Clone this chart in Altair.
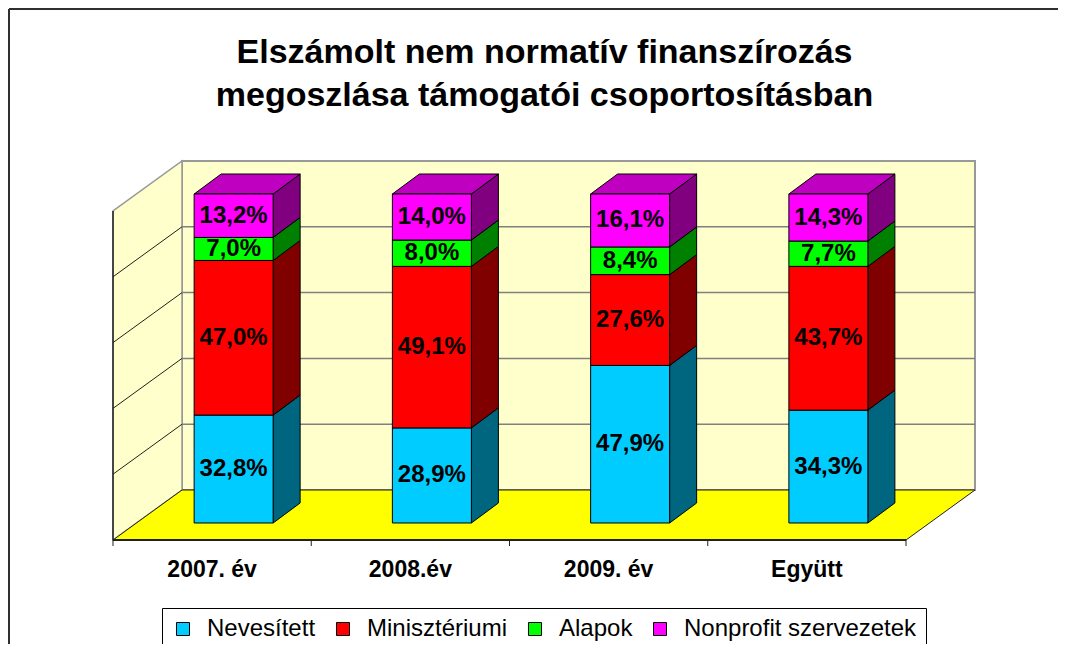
import altair as alt
import pandas as pd

# ---------------- data ----------------
categories = ["2007. év", "2008.év", "2009. év", "Együtt"]
series = ["Nevesített", "Minisztériumi", "Alapok", "Nonprofit szervezetek"]
nevesitett = [32.8, 28.9, 47.9, 34.3]
miniszteriumi = [47.0, 49.1, 27.6, 43.7]
alapok = [7.0, 8.0, 8.4, 7.7]
nonprofit = [13.2, 14.0, 16.1, 14.3]
grid_levels = [0, 20, 40, 60, 80, 100]
title_lines = ["Elszámolt nem normatív finanszírozás",
               "megoszlása támogatói csoportosításban"]

# ---------------- style ----------------
FONT = "Liberation Sans"
front_colors = ["#00CCFF", "#FF0000", "#00FF00", "#FF00FF"]
side_colors = ["#006680", "#800000", "#008000", "#800080"]
top_color = "#C000C0"
wall_color = "#FFFFCC"
floor_color = "#FFFF00"
grid_color = "#808080"

# ---------------- geometry (pixels -> data units) ----------------
W, H = 863, 386
PAD_L, PAD_T, PAD_R, PAD_B = 105, 147, 86, 103
PX_X = 198.25          # pixels per category
PX_Y = 3.29            # pixels per percent
X_MIN = -0.5
X_MAX = X_MIN + W / PX_X
Y_MIN = -1 / PX_Y
Y_MAX = Y_MIN + H / PX_Y


def ux(px):
    return px / PX_X


def uy(px):
    return px / PX_Y


BAR_DX, BAR_DY = ux(21.5), uy(17)
DEPTH_X, DEPTH_Y = ux(27), uy(20)
WALL_X, WALL_Y = ux(69), uy(50)
HALF_W = ux(39.5)
X_END = len(categories) - 0.5

values = [nevesitett, miniszteriumi, alapok, nonprofit]

seg_rows, side_rows, top_rows = [], [], []
for i, cat in enumerate(categories):
    base = 0.0
    xl = i + BAR_DX - HALF_W
    xr = i + BAR_DX + HALF_W
    for j, s in enumerate(series):
        v = values[j][i]
        y0 = base + BAR_DY
        y1 = base + v + BAR_DY
        sid = f"{i}-{j}"
        seg_rows.append(dict(cat=cat, series=s, v=v, xl=xl, xr=xr, y0=y0, y1=y1,
                             xm=i + BAR_DX, ym=(y0 + y1) / 2, sid=sid))
        side_rows.append(dict(sid=sid, x=xr, lo=y0, hi=y1, c=side_colors[j]))
        side_rows.append(dict(sid=sid, x=xr + DEPTH_X, lo=y0 + DEPTH_Y,
                              hi=y1 + DEPTH_Y, c=side_colors[j]))
        base += v
    top = base + BAR_DY
    top_rows.append(dict(cid=cat, y=top, xa=xl, xb=xr))
    top_rows.append(dict(cid=cat, y=top + DEPTH_Y, xa=xl + DEPTH_X, xb=xr + DEPTH_X))

seg = pd.DataFrame(seg_rows)
side = pd.DataFrame(side_rows)
topf = pd.DataFrame(top_rows)

xs = alt.Scale(domain=[X_MIN, X_MAX], nice=False, zero=False)
ys = alt.Scale(domain=[Y_MIN, Y_MAX], nice=False, zero=False)


def X(f):
    return alt.X(f, type="quantitative", scale=xs, axis=None)


def Y(f):
    return alt.Y(f, type="quantitative", scale=ys, axis=None)


one = pd.DataFrame([{"a": 1}])

# ---------------- decorations ----------------
border_top = alt.Chart(one).mark_rule(color="#303030", strokeWidth=2).encode(
    x=alt.value(1 - PAD_L), x2=alt.value(W + PAD_R - 4), y=alt.value(1 - PAD_T))
border_left = alt.Chart(one).mark_rule(color="#303030", strokeWidth=2).encode(
    x=alt.value(1 - PAD_L), y=alt.value(1 - PAD_T), y2=alt.value(H + PAD_B))

back = alt.Chart(pd.DataFrame([{"x": X_MIN + WALL_X, "x2": X_END + WALL_X,
                                "y": WALL_Y, "y2": 100 + WALL_Y}])).mark_rect(
    fill=wall_color, stroke="#999999", strokeWidth=2
).encode(x=X("x"), x2="x2", y=Y("y"), y2="y2")

left = alt.Chart(pd.DataFrame([{"x": X_MIN, "lo": 0, "hi": 100},
                               {"x": X_MIN + WALL_X, "lo": WALL_Y, "hi": 100 + WALL_Y}])).mark_area(
    orient="vertical", fill=wall_color, stroke="#999999", strokeWidth=1.5
).encode(x=X("x"), y=Y("lo"), y2="hi")

floor = alt.Chart(pd.DataFrame([{"y": 0, "xa": X_MIN, "xb": X_END},
                                {"y": WALL_Y, "xa": X_MIN + WALL_X, "xb": X_END + WALL_X}])).mark_area(
    orient="horizontal", fill=floor_color, stroke="#202020", strokeWidth=1
).encode(y=Y("y"), x=X("xa"), x2="xb")

grid_df = pd.DataFrame({"v": grid_levels[1:-1]})
grid_df["yb"] = grid_df["v"] + WALL_Y
grid_df["xa"] = X_MIN + WALL_X
grid_df["xb"] = X_END + WALL_X
grid_df["xf"] = X_MIN

back_grid = alt.Chart(grid_df).mark_rule(color=grid_color, strokeWidth=1.5).encode(
    x=X("xa"), x2="xb", y=Y("yb"))

left_grid = alt.Chart(grid_df).mark_rule(color="#202020", strokeWidth=1).encode(
    x=X("xf"), x2="xa", y=Y("v"), y2="yb")

axis_v = alt.Chart(pd.DataFrame([{"x": X_MIN, "y": 0, "y2": 100}])).mark_rule(
    color="#202020", strokeWidth=1.5).encode(x=X("x"), y=Y("y"), y2="y2")

axis_h = alt.Chart(pd.DataFrame([{"x": X_MIN, "x2": X_END, "y": 0}])).mark_rule(
    color="#202020", strokeWidth=2).encode(x=X("x"), x2="x2", y=Y("y"))

tick_df = pd.DataFrame({"x": [k - 0.5 for k in range(len(categories) + 1)]})
tick_df["y"] = 0.0
tick_df["y2"] = -uy(6)
ticks = alt.Chart(tick_df).mark_rule(color="#202020", strokeWidth=1).encode(
    x=X("x"), y=Y("y"), y2="y2")

cat_df = pd.DataFrame({"cat": categories, "x": list(range(len(categories)))})
cat_df["y"] = -uy(37)
cat_labels = alt.Chart(cat_df).mark_text(
    font=FONT, fontSize=23, fontWeight="bold", color="black", baseline="alphabetic"
).encode(x=X("x"), y=Y("y"), text="cat:N")

# ---------------- bars ----------------
sides = alt.Chart(side).mark_area(orient="vertical", stroke="black", strokeWidth=1).encode(
    x=X("x"), y=Y("lo"), y2="hi",
    fill=alt.Fill("c:N", scale=None), detail="sid:N")

tops = alt.Chart(topf).mark_area(orient="horizontal", fill=top_color, stroke="black",
                                 strokeWidth=1).encode(
    y=Y("y"), x=X("xa"), x2="xb", detail="cid:N")

fronts = alt.Chart(seg).mark_rect(stroke="black", strokeWidth=1, opacity=1).encode(
    x=X("xl"), x2="xr", y=Y("y0"), y2="y1",
    color=alt.Color("series:N", sort=series,
                    scale=alt.Scale(domain=series, range=front_colors),
                    legend=alt.Legend(
                        title=None, orient="none", legendX=49, legendY=453,
                        direction="horizontal", symbolType="square", symbolSize=169,
                        symbolStrokeColor="black", symbolStrokeWidth=1,
                        symbolOpacity=1,
                        labelFont=FONT, labelFontSize=24, labelColor="black",
                        labelLimit=0, labelOffset=12, columnPadding=15,
                        strokeColor="black", fillColor="white", padding=9)))

labels = alt.Chart(seg).transform_calculate(
    t="replace(format(datum.v, '.1f'), '.', ',') + '%'"
).mark_text(font=FONT, fontSize=24, fontWeight="bold", color="black",
            baseline="middle").encode(x=X("xm"), y=Y("ym"), text="t:N")

chart = alt.layer(
    border_top, border_left, back, left, floor, back_grid, left_grid,
    sides, tops, fronts, labels,
    axis_v, axis_h, ticks, cat_labels
).properties(
    width=W, height=H,
    padding={"left": PAD_L, "top": PAD_T, "right": PAD_R, "bottom": PAD_B},
    autosize=alt.AutoSizeParams(type="none"),
    background="white",
    title=alt.Title(text=title_lines, font=FONT, fontSize=34, fontWeight="bold",
                    color="black", anchor="middle", frame="group", offset=-105,
                    lineHeight=43)
).configure_view(stroke=None)

chart.save("out.html", embed_options={"renderer": "svg", "actions": False})
